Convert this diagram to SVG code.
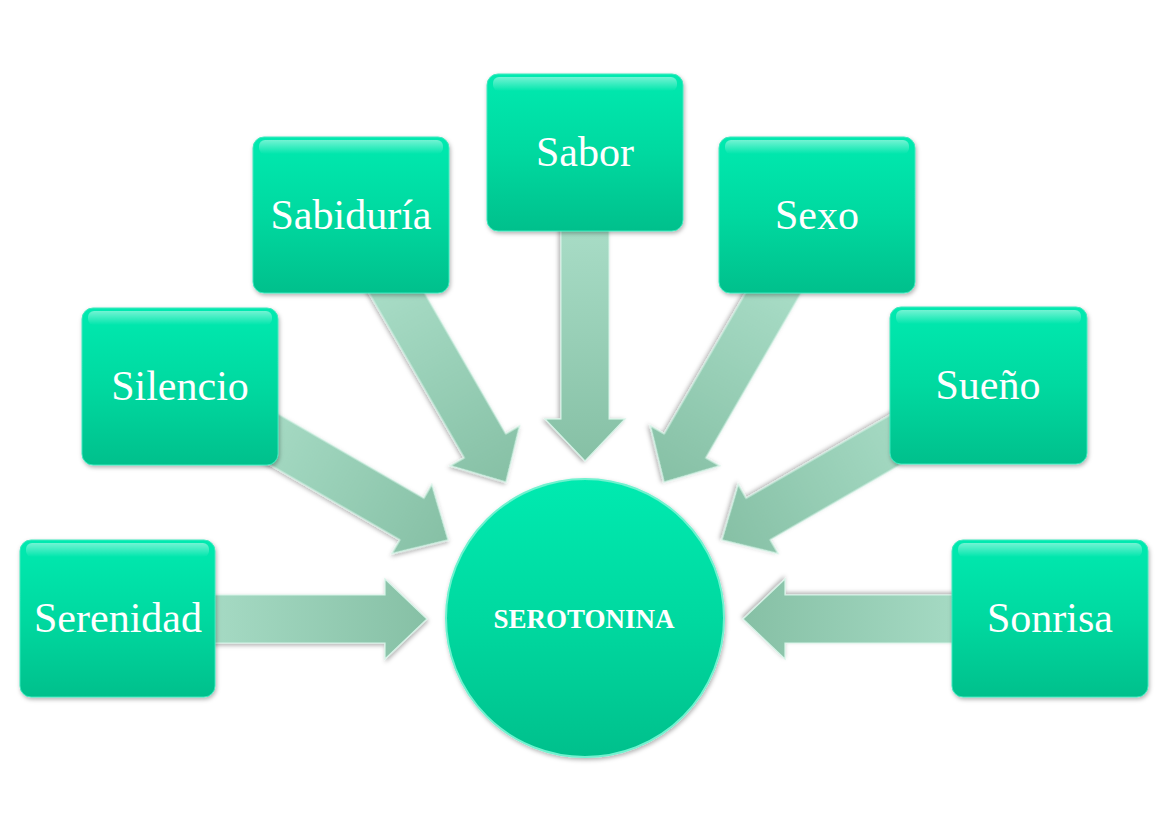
<svg xmlns="http://www.w3.org/2000/svg" width="1158" height="835" viewBox="0 0 1158 835">
<defs>
<linearGradient id="boxg" x1="0" y1="0" x2="0" y2="1">
<stop offset="0" stop-color="#05eab0"/>
<stop offset="0.5" stop-color="#00d9a0"/>
<stop offset="1" stop-color="#00c08c"/>
</linearGradient>
<linearGradient id="hl" x1="0" y1="0" x2="0" y2="1">
<stop offset="0" stop-color="#ffffff" stop-opacity="0.45"/>
<stop offset="1" stop-color="#ffffff" stop-opacity="0"/>
</linearGradient>
<linearGradient id="arrg" x1="0" y1="0" x2="1" y2="0">
<stop offset="0" stop-color="#a9ddc7"/>
<stop offset="1" stop-color="#86c0a5"/>
</linearGradient>
<filter id="sh" x="-10%" y="-10%" width="125%" height="125%">
<feDropShadow dx="1" dy="2" stdDeviation="2" flood-color="#000" flood-opacity="0.3"/>
</filter>
<polygon id="arrow" points="-240,-24 -42,-24 -42,-40 0,0 -42,40 -42,24 -240,24"/>
</defs>
<style>
.arr{fill:url(#arrg);stroke:#d6f3e7;stroke-width:1.2;filter:url(#sh)}
.box{fill:url(#boxg);stroke:#3ee8bd;stroke-width:1;filter:url(#sh)}
.hl{fill:url(#hl)}
.lbl{font-family:"Liberation Serif","Times New Roman",serif;font-size:42px;fill:#ffffff;text-anchor:middle;dominant-baseline:central}
.ctr{font-family:"Liberation Serif","Times New Roman",serif;font-size:27px;font-weight:bold;fill:#ffffff;text-anchor:middle;dominant-baseline:central}
</style>
<rect width="1158" height="835" fill="#ffffff"/>
<g id="connectors">
<use href="#arrow" class="arr" transform="translate(427,619) rotate(0)"/>
<use href="#arrow" class="arr" transform="translate(448.2,540) rotate(30)"/>
<use href="#arrow" class="arr" transform="translate(506,482.2) rotate(60)"/>
<use href="#arrow" class="arr" transform="translate(585,461) rotate(90)"/>
<use href="#arrow" class="arr" transform="translate(664,482.2) rotate(120)"/>
<use href="#arrow" class="arr" transform="translate(721.8,540) rotate(150)"/>
<use href="#arrow" class="arr" transform="translate(743,619) rotate(180)"/>
</g>
<g id="n-serenidad">
<rect class="box" x="20" y="540" width="195" height="157" rx="11"/>
<rect class="hl" x="26" y="543" width="183" height="14" rx="6"/>
<text class="lbl" x="118" y="618">Serenidad</text>
</g>
<g id="n-silencio">
<rect class="box" x="82" y="308" width="196" height="157" rx="11"/>
<rect class="hl" x="88" y="311" width="184" height="14" rx="6"/>
<text class="lbl" x="180" y="386">Silencio</text>
</g>
<g id="n-sabiduria">
<rect class="box" x="253" y="137" width="196" height="156" rx="11"/>
<rect class="hl" x="259" y="140" width="184" height="14" rx="6"/>
<text class="lbl" x="351" y="215">Sabiduría</text>
</g>
<g id="n-sabor">
<rect class="box" x="487" y="74" width="196" height="157" rx="11"/>
<rect class="hl" x="493" y="77" width="184" height="14" rx="6"/>
<text class="lbl" x="585" y="152">Sabor</text>
</g>
<g id="n-sexo">
<rect class="box" x="719" y="137" width="196" height="156" rx="11"/>
<rect class="hl" x="725" y="140" width="184" height="14" rx="6"/>
<text class="lbl" x="817" y="215">Sexo</text>
</g>
<g id="n-sueno">
<rect class="box" x="890" y="307" width="197" height="157" rx="11"/>
<rect class="hl" x="896" y="310" width="185" height="14" rx="6"/>
<text class="lbl" x="988" y="385">Sueño</text>
</g>
<g id="n-sonrisa">
<rect class="box" x="952" y="540" width="196" height="157" rx="11"/>
<rect class="hl" x="958" y="543" width="184" height="14" rx="6"/>
<text class="lbl" x="1050" y="618">Sonrisa</text>
</g>
<g id="n-serotonina">
<circle cx="585" cy="618" r="139" fill="url(#boxg)" stroke="#6ff2cf" stroke-width="2" filter="url(#sh)"/>
<text class="ctr" x="584" y="619">SEROTONINA</text>
</g>
</svg>
